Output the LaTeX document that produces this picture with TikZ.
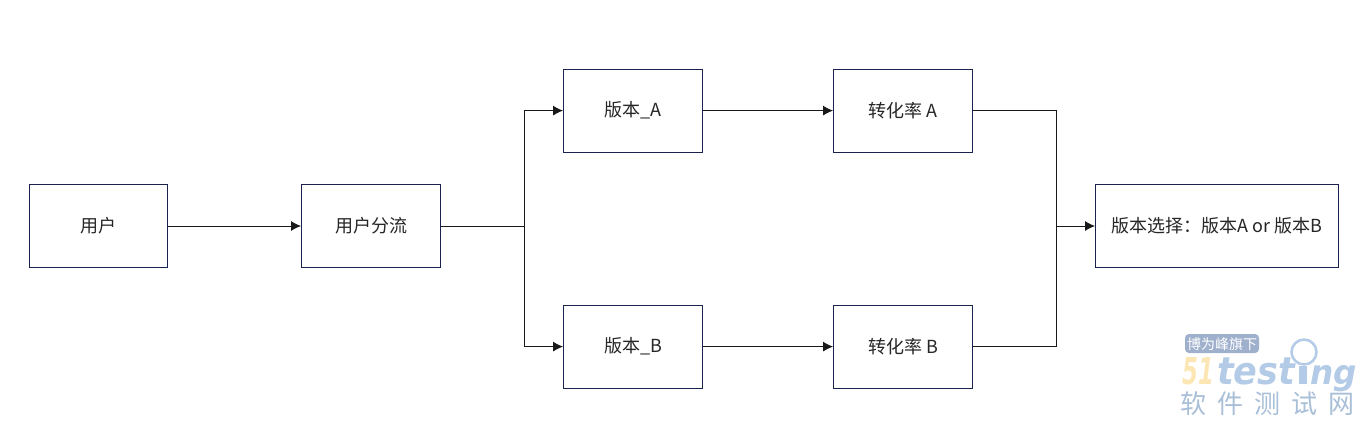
\documentclass[tikz,border=0pt]{standalone}
\usepackage{fontspec}
\setmainfont{Noto Sans CJK SC}
\newfontfamily\wmfont[BoldItalicFont={DejaVu Sans Bold Oblique}]{DejaVu Sans}
\usetikzlibrary{arrows.meta}
\definecolor{boxline}{HTML}{1A2350}
\definecolor{wmblue}{HTML}{B3CBE6}
\definecolor{wmyellow}{HTML}{FBE6B4}
\definecolor{wmgrey}{HTML}{9FB0CC}
\definecolor{wmtext}{HTML}{A9BFD8}
\tikzset{
  stagebox/.style={draw=boxline,line width=0.9pt,fill=white,minimum height=83pt,inner sep=0pt,text=black!85,font=\fontsize{18}{21}\selectfont},
  flow/.style={draw=black!90,line width=0.9pt,-{Latex[length=10pt,width=10pt]}},
  plainflow/.style={draw=black!90,line width=0.9pt},
  wmword/.style={inner sep=0pt,anchor=base west,font=\wmfont\bfseries\itshape\fontsize{40}{40}\selectfont},
}
\begin{document}
\begin{tikzpicture}[x=1pt,y=-1pt]
\useasboundingbox (0,0) rectangle (1372,424);
\node[stagebox,minimum width=138pt] (user) at (98.5,226) {用户};
\node[stagebox,minimum width=139pt] (split) at (371,226) {用户分流};
\node[stagebox,minimum width=139pt] (va) at (633,110.6) {版本\_A};
\node[stagebox,minimum width=139pt] (vb) at (633,346.6) {版本\_B};
\node[stagebox,minimum width=139pt] (ra) at (903,110.6) {转化率 A};
\node[stagebox,minimum width=139pt] (rb) at (903,346.6) {转化率 B};
\node[stagebox,minimum width=243pt] (choice) at (1217,226) {版本选择：版本A or 版本B};
\coordinate (j1) at (524.6,226);
\coordinate (j2) at (1056.6,226);
\draw[flow] (user) -- (split);
\draw[plainflow] (split) -- (j1);
\draw[flow] (j1) |- (va);
\draw[flow] (j1) |- (vb);
\draw[flow] (va) -- (ra);
\draw[flow] (vb) -- (rb);
\draw[plainflow] (ra) -| (j2);
\draw[plainflow] (rb) -| (j2);
\draw[flow] (j2) -- (choice);
% watermark
\fill[wmgrey,rounded corners=4pt] (1185,334) rectangle (1259,353);
\node[inner sep=0pt,text=white,font=\fontsize{14}{14}\selectfont] (wmtag) at (1222,344) {博为峰旗下};
\node[wmword,text=wmyellow] (wm51) at (1182,384) {\scalebox{0.62}[1]{\fontsize{37}{37}\selectfont 51}};
\node[wmword,text=wmblue] (wmtest) at (1217,384) {\scalebox{0.92}[1]{\fontsize{38}{38}\selectfont test}};
\draw[wmblue,line width=8pt] (1303,366) -- (1303,384);
\draw[wmblue,line width=2.5pt,fill=white] (1304,352) circle (12.5pt);
\node[wmword,text=wmblue] (wmng) at (1310,384) {\scalebox{0.96}[1]{\fontsize{34}{34}\selectfont ng}};
\node[inner sep=0pt,text=wmtext,font=\fontsize{26}{30}\selectfont] (wmcn) at (1267,404) {软\hspace{11pt}件\hspace{11pt}测\hspace{11pt}试\hspace{11pt}网};
\end{tikzpicture}
\end{document}
